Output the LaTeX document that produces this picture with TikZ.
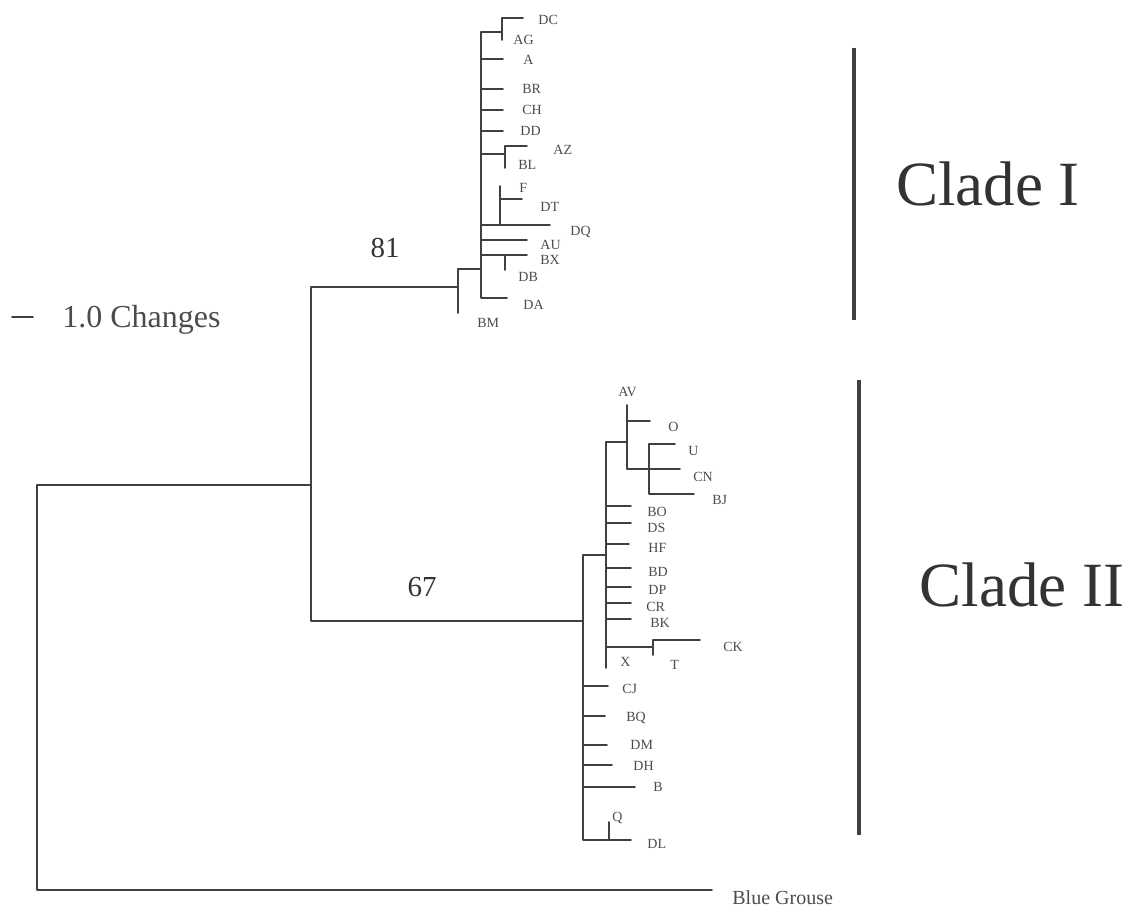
\documentclass[tikz,border=0pt]{standalone}
\usepackage{fontspec}
\setmainfont{Liberation Serif}
\begin{document}
\begin{tikzpicture}[x=0.5pt, y=-0.5pt, line join=round, line cap=round,
	branch/.style={draw=black!75, line width=0.9pt},
	cladebar/.style={draw=black!75, line width=2.2pt, line cap=butt},
	taxon/.style={anchor=west, inner sep=0pt, text height=4.6pt, text depth=0pt, text=black!70, font=\fontsize{7}{8}\selectfont},
	support/.style={inner sep=0pt, text height=9.6pt, text depth=0pt, text=black!80, font=\fontsize{14.5}{16}\selectfont},
	clade/.style={inner sep=0pt, text height=21pt, text depth=0pt, text=black!80, font=\fontsize{31.5}{36}\selectfont}]
	\useasboundingbox (0,0) rectangle (1125,909);
	\foreach \n/\x/\y in {R/37/485, n81/311/485, BG/712/890, nI/458/287, nII/583/621, nIa/481/269, BM/458/313,
		nDC/502/32, DC/523/18, AG/502/40, A/503/59, BR/503/89, CH/503/110, DD/503/131,
		nAZ/505/154, AZ/527/146, BL/505/168, nF/500/225, F/500/186, DT/522/199, DQ/550/225,
		AU/527/240, nBX/505/255, BX/527/255, DB/505/270, DA/507/298,
		nIIa/606/555, nAV/627/442, AV/627/405, O/650/421, nU/649/469, U/675/444, CN/680/469, BJ/694/494,
		BO/631/506, DS/631/523, HF/629/544, BD/631/568, DP/631/587, CR/631/603, BK/631/619,
		nT/653/647, CK/700/640, T/653/655, X/606/668,
		CJ/608/686, BQ/605/716, DM/607/745, DH/612/765, B/635/787, nQ/609/840, Q/609/822, DL/631/840}
		\coordinate (\n) at (\x,\y);
	\foreach \p/\c in {R/n81, R/BG, n81/nI, n81/nII, nI/nIa, nI/BM, nIa/nDC, nDC/DC, nDC/AG, nIa/A, nIa/BR, nIa/CH, nIa/DD,
		nIa/nAZ, nAZ/AZ, nAZ/BL, nIa/nF, nF/F, nF/DT, nF/DQ, nIa/AU, nIa/nBX, nBX/BX, nBX/DB, nIa/DA,
		nII/nIIa, nII/CJ, nII/BQ, nII/DM, nII/DH, nII/B, nII/nQ, nQ/Q, nQ/DL,
		nIIa/nAV, nAV/AV, nAV/O, nAV/nU, nU/U, nU/CN, nU/BJ, nIIa/BO, nIIa/DS, nIIa/HF, nIIa/BD, nIIa/DP,
		nIIa/CR, nIIa/BK, nIIa/nT, nT/T, nT/CK, nIIa/X}
		\draw[branch] (\p) |- (\c);
	\foreach \n/\x/\y in {DC/538/20, AG/513/40, A/523/60, BR/522/89, CH/522/110, DD/520/131, AZ/553/150, BL/518/165,
		F/519/188, DT/540/207, DQ/570/231, AU/540/245, BX/540/260, DB/518/277, DA/523/305, BM/477/323,
		AV/618/392, O/668/427, U/688/451, CN/693/477, BJ/712/500, BO/647/512, DS/647/528, HF/648/548,
		BD/648/572, DP/648/590, CR/646/607, BK/650/623, CK/723/647, T/670/665, X/620/662,
		CJ/622/689, BQ/626/717, DM/630/745, DH/633/766, B/653/787, Q/612/817, DL/647/844}
		\node[taxon] (l\n) at (\x,\y) {\n};
	\node[taxon, text height=6.6pt, font=\fontsize{10}{12}\selectfont] (lBG) at (732,898) {Blue Grouse};
	\node[support] (s81) at (385,248) {81};
	\node[support] (s67) at (422,587) {67};
	\coordinate (sb1) at (12,317); \coordinate (sb2) at (33,317);
	\draw[branch] (sb1) -- (sb2);
	\node[taxon, text height=10.6pt, font=\fontsize{16}{18}\selectfont] (lscale) at (62,317) {1.0 Changes};
	\coordinate (barIa) at (854,48); \coordinate (barIb) at (854,320);
	\coordinate (barIIa) at (859,380); \coordinate (barIIb) at (859,835);
	\draw[cladebar] (barIa) -- (barIb);
	\draw[cladebar] (barIIa) -- (barIIb);
	\node[clade] (cladeI) at (988,185) {Clade I};
	\node[clade] (cladeII) at (1022,585) {Clade II};
\end{tikzpicture}
\end{document}
